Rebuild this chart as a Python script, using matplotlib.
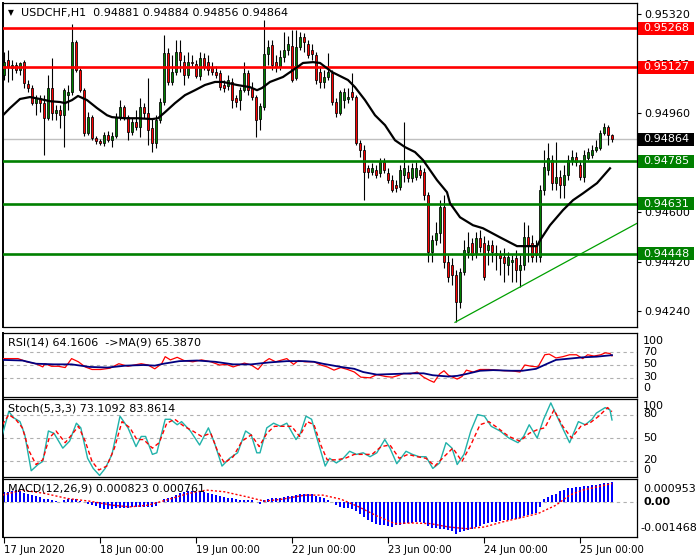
import matplotlib
matplotlib.use('Agg')
import matplotlib.pyplot as plt
from matplotlib.patches import Rectangle
import numpy as np

# ---------------- data ----------------
opens = [
0.95098, 0.95153, 0.95123, 0.95134, 0.95116, 0.95145, 0.95065, 0.95051, 0.94996, 0.95014,
0.94996, 0.94941, 0.95051, 0.94960, 0.94971, 0.94952, 0.95025, 0.95036, 0.95218, 0.95116,
0.95043, 0.94887, 0.94945, 0.94869, 0.94858, 0.94851, 0.94880, 0.94861, 0.94876, 0.94945,
0.94982, 0.94945, 0.94891, 0.94927, 0.94909, 0.94982, 0.94960, 0.94905, 0.94851, 0.94934,
0.95000, 0.95178, 0.95073, 0.95109, 0.95182, 0.95145, 0.95098, 0.95145, 0.95138, 0.95094,
0.95160, 0.95145, 0.95123, 0.95109, 0.95105, 0.95062, 0.95058, 0.95073, 0.95014, 0.95007,
0.95043, 0.95105, 0.95051, 0.95018, 0.94938, 0.94982, 0.95174, 0.95207, 0.95145, 0.95127,
0.95164, 0.95189, 0.95204, 0.95087, 0.95200, 0.95236, 0.95211, 0.95189, 0.95171, 0.95109,
0.95073, 0.95091, 0.95105, 0.95000, 0.94960, 0.95007, 0.95011, 0.95036, 0.95018, 0.94851,
0.94825, 0.94759, 0.94745, 0.94752, 0.94741, 0.94781, 0.94741, 0.94716, 0.94698, 0.94690,
0.94734, 0.94745, 0.94723, 0.94727, 0.94752, 0.94745, 0.94661, 0.94454, 0.94497, 0.94523,
0.94618, 0.94417, 0.94406, 0.94370, 0.94272, 0.94381, 0.94454, 0.94486, 0.94450, 0.94505,
0.94486, 0.94461, 0.94479, 0.94450, 0.94443, 0.94436, 0.94406, 0.94417, 0.94432, 0.94388,
0.94406, 0.94508, 0.94486, 0.94479, 0.94436, 0.94679, 0.94752, 0.94789, 0.94705, 0.94727,
0.94698, 0.94734, 0.94789, 0.94800, 0.94770, 0.94727, 0.94796, 0.94807, 0.94825, 0.94832,
0.94887, 0.94909, 0.94881]
highs = [
0.95182, 0.95189, 0.95153, 0.95145, 0.95145, 0.95153, 0.95080, 0.95062, 0.95025, 0.95025,
0.95025, 0.95098, 0.95160, 0.94989, 0.94989, 0.95051, 0.95062, 0.95284, 0.95225, 0.95123,
0.95051, 0.94963, 0.94952, 0.94876, 0.94865, 0.94891, 0.94894, 0.94891, 0.94960, 0.95007,
0.94989, 0.94952, 0.94941, 0.94971, 0.95014, 0.94996, 0.95087, 0.94941, 0.94952, 0.95014,
0.95244, 0.95196, 0.95171, 0.95225, 0.95225, 0.95171, 0.95182, 0.95171, 0.95153, 0.95182,
0.95178, 0.95171, 0.95145, 0.95131, 0.95116, 0.95080, 0.95098, 0.95087, 0.95025, 0.95054,
0.95145, 0.95116, 0.95073, 0.95025, 0.94996, 0.95298, 0.95225, 0.95225, 0.95171, 0.95189,
0.95254, 0.95240, 0.95262, 0.95262, 0.95254, 0.95251, 0.95225, 0.95211, 0.95182, 0.95131,
0.95116, 0.95178, 0.95116, 0.95014, 0.95043, 0.95051, 0.95051, 0.95105, 0.95025, 0.94861,
0.94843, 0.94770, 0.94778, 0.94770, 0.94796, 0.94796, 0.94759, 0.94734, 0.94716, 0.94770,
0.94927, 0.94770, 0.94778, 0.94781, 0.94770, 0.94759, 0.94672, 0.94516, 0.94563, 0.94643,
0.94661, 0.94443, 0.94432, 0.94388, 0.94396, 0.94497, 0.94526, 0.94505, 0.94526, 0.94534,
0.94512, 0.94497, 0.94497, 0.94479, 0.94461, 0.94468, 0.94454, 0.94443, 0.94461, 0.94443,
0.94563, 0.94552, 0.94516, 0.94497, 0.94698, 0.94825, 0.94851, 0.94807, 0.94854, 0.94752,
0.94770, 0.94807, 0.94825, 0.94818, 0.94789, 0.94825, 0.94832, 0.94843, 0.94861, 0.94898,
0.94923, 0.94916, 0.94884]
lows = [
0.95080, 0.95073, 0.95080, 0.95105, 0.95098, 0.95051, 0.95036, 0.94989, 0.94952, 0.94963,
0.94807, 0.94934, 0.94934, 0.94934, 0.94905, 0.94836, 0.94971, 0.95025, 0.95109, 0.95036,
0.94876, 0.94880, 0.94861, 0.94847, 0.94843, 0.94840, 0.94854, 0.94836, 0.94869, 0.94934,
0.94934, 0.94861, 0.94880, 0.94898, 0.94872, 0.94941, 0.94843, 0.94818, 0.94832, 0.94923,
0.94989, 0.95062, 0.95062, 0.95098, 0.95109, 0.95062, 0.95087, 0.95131, 0.95087, 0.95080,
0.95116, 0.95098, 0.95098, 0.95087, 0.95043, 0.95036, 0.95043, 0.94978, 0.94982, 0.94971,
0.95036, 0.95025, 0.95007, 0.94872, 0.94898, 0.94971, 0.95134, 0.95116, 0.95109, 0.95116,
0.95145, 0.95171, 0.95073, 0.95080, 0.95189, 0.95182, 0.95160, 0.95153, 0.95065, 0.95051,
0.95051, 0.95080, 0.94989, 0.94945, 0.94952, 0.94978, 0.94996, 0.95007, 0.94843, 0.94800,
0.94643, 0.94723, 0.94734, 0.94723, 0.94727, 0.94741, 0.94705, 0.94672, 0.94672, 0.94679,
0.94709, 0.94709, 0.94709, 0.94716, 0.94723, 0.94643, 0.94417, 0.94417, 0.94479, 0.94486,
0.94396, 0.94345, 0.94334, 0.94199, 0.94250, 0.94370, 0.94432, 0.94425, 0.94432, 0.94454,
0.94352, 0.94406, 0.94417, 0.94388, 0.94370, 0.94345, 0.94370, 0.94345, 0.94345, 0.94326,
0.94388, 0.94417, 0.94417, 0.94417, 0.94417, 0.94661, 0.94734, 0.94679, 0.94679, 0.94650,
0.94650, 0.94716, 0.94770, 0.94767, 0.94716, 0.94709, 0.94789, 0.94796, 0.94818, 0.94825,
0.94880, 0.94843, 0.94856]
closes = [
0.95145, 0.95127, 0.95134, 0.95116, 0.95142, 0.95069, 0.95051, 0.94996, 0.95014, 0.94996,
0.94941, 0.95051, 0.94960, 0.94971, 0.94952, 0.95043, 0.95036, 0.95218, 0.95116, 0.95043,
0.94887, 0.94945, 0.94869, 0.94858, 0.94851, 0.94880, 0.94861, 0.94876, 0.94945, 0.94982,
0.94945, 0.94891, 0.94927, 0.94909, 0.94982, 0.94960, 0.94898, 0.94851, 0.94934, 0.95000,
0.95178, 0.95073, 0.95109, 0.95182, 0.95153, 0.95098, 0.95145, 0.95142, 0.95094, 0.95160,
0.95127, 0.95116, 0.95109, 0.95098, 0.95054, 0.95051, 0.95080, 0.95007, 0.95000, 0.95043,
0.95105, 0.95043, 0.95018, 0.94934, 0.94985, 0.95174, 0.95200, 0.95134, 0.95127, 0.95164,
0.95189, 0.95211, 0.95080, 0.95200, 0.95236, 0.95218, 0.95171, 0.95174, 0.95080, 0.95073,
0.95091, 0.95109, 0.95000, 0.94960, 0.95036, 0.95036, 0.95018, 0.95018, 0.94851, 0.94825,
0.94745, 0.94745, 0.94759, 0.94734, 0.94781, 0.94752, 0.94716, 0.94679, 0.94687, 0.94752,
0.94759, 0.94723, 0.94759, 0.94759, 0.94734, 0.94661, 0.94454, 0.94497, 0.94523, 0.94618,
0.94417, 0.94363, 0.94370, 0.94272, 0.94381, 0.94461, 0.94472, 0.94443, 0.94505, 0.94472,
0.94363, 0.94479, 0.94454, 0.94443, 0.94432, 0.94414, 0.94436, 0.94425, 0.94388, 0.94406,
0.94508, 0.94479, 0.94436, 0.94443, 0.94679, 0.94763, 0.94796, 0.94705, 0.94727, 0.94698,
0.94734, 0.94789, 0.94800, 0.94781, 0.94727, 0.94807, 0.94818, 0.94825, 0.94836, 0.94887,
0.94909, 0.94880, 0.94864]

# moving average on price (bar position, value)
ma_x = [-0.25, 1.5, 4, 6.5, 9, 11.5, 14, 15.25, 17, 18.5, 20.75, 23.25, 25.75, 27, 30.25, 33.5,
        37, 38.5, 40.25, 42.75, 45.25, 47.75, 50.25, 52.75, 54.75, 58.25, 61.5, 63.25, 64.5,
        66.5, 69.75, 72.25, 74.75, 77.25, 79, 82, 86, 87.75, 90.25, 92.75, 95.25, 97.75,
        100.25, 102.75, 104.75, 108.25, 110.75, 111.5, 114, 117.25, 119.75, 124, 128.25,
        133.25, 134, 136.5, 139.75, 142.25, 144.75, 148.25, 151.5]
ma_v = [0.94952, 0.94978, 0.95011, 0.95018, 0.95011, 0.95003, 0.95000, 0.94996, 0.95007, 0.95022,
        0.95007, 0.94978, 0.94952, 0.94945, 0.94941, 0.94941, 0.94938, 0.94941, 0.94963, 0.94996,
        0.95025, 0.95043, 0.95062, 0.95073, 0.95073, 0.95062, 0.95054, 0.95043, 0.95051, 0.95073,
        0.95091, 0.95116, 0.95142, 0.95145, 0.95142, 0.95109, 0.95080, 0.95054, 0.95007, 0.94952,
        0.94916, 0.94861, 0.94836, 0.94818, 0.94789, 0.94716, 0.94672, 0.94632, 0.94581, 0.94552,
        0.94541, 0.94508, 0.94476, 0.94476, 0.94497, 0.94552, 0.94607, 0.94643, 0.94668, 0.94705,
        0.94759]

resist_levels = [0.95268, 0.95127]
support_levels = [0.94785, 0.94631, 0.94448]
last_price = 0.94864
trend_x = [112.75, 158.25]
trend_v = [0.94199, 0.94559]
price_ticks = [0.95320, 0.95140, 0.94960, 0.94780, 0.94600, 0.94420, 0.94240]

rsi_x = [-0.4, 3.5, 5.7, 8.0, 9.7, 10.2, 11.9, 13.6, 15.3, 16.9, 18.6, 20.3, 22.0, 24.2, 26.5,
         28.7, 31.0, 32.6, 34.3, 36.0, 37.7, 39.4, 40.3, 41.6, 43.3, 45.0, 47.2, 49.4, 51.7,
         53.9, 55.6, 57.3, 60.1, 61.8, 63.5, 65.1, 66.3, 67.9, 70.7, 72.4, 73.6, 75.2, 77.5,
         79.2, 80.8, 82.5, 84.2, 85.9, 87.6, 89.2, 91.5, 93.2, 95.4, 97.1, 98.8, 99.9, 101.6,
         103.3, 104.9, 106.4, 107.5, 108.9, 110.0, 111.1, 112.2, 113.3, 114.5, 115.6, 117.3,
         119.0, 121.2, 123.4, 125.1, 126.8, 129.0, 130.2, 131.8, 133.5, 135.2, 136.3, 138.0,
         139.7, 141.4, 143.1, 144.7, 145.9, 147.5, 149.2, 150.3, 151.5, 152]
rsi_v = [60, 60, 55, 52, 47, 52, 48, 48, 46, 60, 55, 47, 43, 43, 45,
         52, 48, 50, 52, 50, 44, 52, 63, 58, 62, 57, 55, 58, 55,
         50, 51, 47, 53, 50, 43, 55, 60, 55, 60, 51, 57, 55, 55,
         50, 47, 42, 46, 43, 39, 31, 30, 35, 32, 31, 34, 37, 36,
         39, 31, 26, 23, 36, 41, 34, 31, 28, 32, 42, 39,
         43, 43, 42, 41, 41, 39, 50, 48, 47, 66, 67, 61,
         63, 66, 66, 60, 66, 64, 66, 69, 68, 64.16]
rsi_ma_x = [-0.4, 4.6, 8.0, 12.5, 16.9, 21.4, 25.9, 30.4, 34.9, 37.7, 39.9, 43.8, 48.3, 52.8,
            57.3, 61.8, 66.3, 70.7, 75.2, 77.5, 79.7, 84.2, 87.6, 89.8, 93.2, 97.7, 102.1,
            104.9, 107.2, 111.1, 113.3, 115.6, 119.0, 122.3, 126.8, 129.6, 133.0, 135.8,
            138.0, 141.4, 144.7, 148.1, 152]
rsi_ma_v = [58, 57, 52, 51, 51, 47, 46, 49, 50, 49, 52, 56, 57, 55,
            51, 51, 54, 56, 56, 55, 52, 47, 44, 39, 35, 36, 37,
            37, 34, 32, 33, 36, 41, 42, 41, 41, 44, 52,
            58, 60, 62, 63, 65.39]

st_x = [-0.4, 1.2, 2.4, 4.0, 5.2, 6.8, 8.5, 9.7, 11.1, 12.5, 14.7, 16.4, 18.1, 19.2, 20.9, 22.3,
        23.9, 25.3, 27.0, 29.0, 31.0, 33.0, 34.3, 35.4, 37.1, 38.2, 40.3, 41.6, 43.3, 44.4,
        46.6, 48.9, 51.1, 52.6, 54.5, 56.4, 58.4, 60.4, 61.8, 63.2, 64.0, 65.7, 67.4, 69.1,
        70.7, 73.0, 74.1, 75.5, 76.9, 78.0, 80.3, 81.4, 83.1, 84.8, 86.4, 88.1, 89.8, 91.5,
        93.2, 95.2, 96.5, 98.2, 100.5, 102.1, 103.8, 105.5, 107.2, 108.9, 110.5, 112.0,
        113.3, 115.0, 116.7, 118.4, 120.1, 121.8, 124.0, 126.2, 128.5, 129.9, 131.3, 133.3,
        134.9, 136.7, 138.6, 141.4, 143.6, 145.3, 147.0, 148.1, 150.3, 151.5, 152]
st_main = [54, 84, 76, 71, 54, 8, 16, 20, 59, 56, 37, 46, 69, 63, 24, 11,
           2, 11, 29, 78, 63, 39, 52, 52, 29, 31, 74, 74, 67, 71,
           59, 41, 63, 44, 14, 24, 31, 59, 54, 31, 31, 63, 69, 65,
           69, 48, 56, 78, 74, 54, 14, 24, 18, 24, 33, 29, 31, 26,
           31, 48, 37, 17, 33, 29, 26, 26, 11, 18, 44, 37,
           16, 29, 59, 80, 78, 65, 59, 50, 44, 52, 67, 50,
           74, 95, 74, 44, 71, 67, 74, 82, 89, 86, 73.11]
st_sig_x = [-0.4, 1.2, 2.9, 4.6, 6.3, 8.0, 9.7, 11.3, 13.0, 15.3, 16.9, 18.6, 20.3, 22.0, 23.7,
            25.7, 27.6, 29.5, 31.5, 33.2, 34.9, 37.1, 38.8, 40.7, 42.7, 45.0, 47.2, 49.4, 51.7,
            53.4, 55.1, 57.3, 59.5, 61.8, 63.8, 65.7, 67.6, 69.6, 71.9, 73.9, 75.8, 77.5, 79.2,
            80.8, 83.1, 85.3, 87.6, 89.8, 92.0, 94.3, 96.5, 98.8, 101.0, 103.3, 105.5, 107.7,
            110.0, 112.2, 114.5, 116.7, 119.0, 121.2, 123.4, 126.2, 129.0, 131.3, 133.5, 135.2,
            137.5, 139.7, 141.9, 144.2, 146.4, 148.7, 150.9, 152]
st_sig = [67, 80, 74, 63, 33, 16, 22, 50, 59, 44, 54, 65, 46, 20, 9,
          14, 37, 71, 63, 48, 48, 37, 44, 69, 74, 65, 59, 52, 56,
          33, 18, 26, 46, 54, 39, 56, 65, 65, 65, 52, 71, 67, 41,
          22, 22, 24, 29, 29, 29, 39, 41, 24, 29, 26, 24, 14,
          26, 37, 20, 41, 67, 71, 63, 52, 46, 56, 61, 63,
          86, 65, 50, 65, 69, 78, 89, 83.86]

# MACD histogram per bar (units of 1e-6)
macd_hist_e6 = [
 420, 430, 450, 480, 450, 370, 320, 280, 250, 190,
 130, 100, 80, 40, 10, 60, 100, 120, 100, 50,
 -20, -70, -120, -170, -260, -300, -320, -300, -270, -250,
 -240, -240, -220, -210, -210, -210, -210, -200, -160, -20,
 110, 170, 210, 300, 360, 420, 440, 450, 430, 410,
 390, 370, 340, 290, 250, 210, 170, 140, 110, 80,
 70, 70, 60, 0, -110, 60, 120, 140, 160, 170,
 210, 230, 260, 290, 320, 340, 330, 310, 240, 210,
 150, 90, 0, -140, -200, -240, -270, -290, -380, -500,
 -640, -740, -840, -930, -960, -980, -1010, -1050, -980, -950,
 -940, -900, -870, -850, -860, -900, -1000, -1090, -1110, -1130,
 -1150, -1180, -1230, -1330, -1280, -1230, -1160, -1120, -1060, -1000,
 -910, -870, -850, -830, -800, -770, -750, -730, -710, -680,
 -590, -550, -500, -460, -210, 120, 210, 280, 340, 450,
 500, 560, 590, 610, 630, 650, 680, 700, 715, 730,
 770, 790, 823]
macd_sig_x = [-0.4, 4.6, 10.2, 15.8, 21.4, 27, 31.5, 36, 40.5, 46.1, 50.6, 55.1, 60.7, 65.1,
              69.6, 75.2, 79.7, 84.2, 88.7, 93.2, 97.7, 102.1, 106.6, 111.1, 115.6, 120.1,
              124.6, 129, 133.5, 138, 141.4, 144.7, 149.2, 152]
macd_sig_e6 = [280, 490, 350, 140, 28, -140, -210, -140, 70, 350, 490, 420, 210, 28,
               112, 280, 280, 112, -210, -588, -910, -882, -910, -1050, -1120, -1050,
               -840, -672, -490, -140, 280, 490, 658, 761]

day_ticks = [0, 24, 48, 72, 96, 120, 144]
day_labels = ['17 Jun 2020', '18 Jun 00:00', '19 Jun 00:00', '22 Jun 00:00',
              '23 Jun 00:00', '24 Jun 00:00', '25 Jun 00:00']

# ---------------- drawing ----------------
plt.rcParams['font.family'] = ['DejaVu Sans']
W, H = 700, 560
fig = plt.figure(figsize=(7, 5.6), dpi=100)
fig.patch.set_facecolor('white')


def rect(x0, y0, x1, y1):
    return [x0 / W, 1 - y1 / H, (x1 - x0) / W, (y1 - y0) / H]


ax = fig.add_axes(rect(3, 3, 637, 327))
ax_rsi = fig.add_axes(rect(3, 333, 637, 397))
ax_st = fig.add_axes(rect(3, 399, 637, 477))
ax_md = fig.add_axes(rect(3, 479, 637, 537))

XL = (-0.25, 158.25)
for a in (ax, ax_rsi, ax_st, ax_md):
    a.set_xlim(*XL)
    a.set_facecolor('white')
    for s in a.spines.values():
        s.set_linewidth(0.9)
        s.set_color('black')
    a.spines['left'].set_linewidth(1.4)
    a.tick_params(axis='x', bottom=False, labelbottom=False)
    a.tick_params(axis='y', left=False, labelleft=False, right=False, labelright=False)

# main candles
o = np.array(opens); h = np.array(highs); l = np.array(lows); c = np.array(closes)
idx = np.arange(len(c))
ax.set_ylim(0.94182, 0.95360)
ax.axhline(last_price, color='#c0c0c0', lw=1.0, zorder=1)
ax.vlines(idx, l, h, color='black', lw=0.8, zorder=3)
up = c >= o
cols = np.where(up, '#008000', '#ff0000')
ax.bar(idx, np.abs(c - o), bottom=np.minimum(o, c), width=0.72, color=cols,
       edgecolor='black', linewidth=0.55, zorder=4)
for lv in resist_levels:
    ax.axhline(lv, color='#ff0000', lw=1.9, zorder=5)
for lv in support_levels:
    ax.axhline(lv, color='#008000', lw=1.9, zorder=5)
ax.plot(trend_x, trend_v, color='#00a000', lw=0.9, zorder=5)
ax.plot(ma_x, ma_v, color='black', lw=1.6, zorder=6)

ax.yaxis.tick_right()
ax.set_yticks(price_ticks)
# 0.94780 sits completely under the 0.94785 tag in the reference
ax.set_yticklabels(['' if abs(v - 0.94780) < 1e-7 else f'{v:.5f}' for v in price_ticks])
ax.tick_params(axis='y', right=True, labelright=True, length=3, width=0.8,
               pad=2, labelsize=8, direction='out')

fig.text(8 / W, 1 - 13 / H, '\u25BC', fontsize=5.5, va='center', ha='left')
fig.text(21 / W, 1 - 13 / H, 'USDCHF,H1  0.94881 0.94884 0.94856 0.94864',
         fontsize=8, va='center', ha='left')

# price tags
fig.canvas.draw()
tags = [(resist_levels[0], '#ff0000'), (resist_levels[1], '#ff0000'),
        (last_price, '#000000'), (support_levels[0], '#008000'),
        (support_levels[1], '#008000'), (support_levels[2], '#008000')]
for val, col in tags:
    ypx = ax.transData.transform((0, val))[1]
    fig.add_artist(Rectangle((638 / W, (ypx - 6.5) / H), 56 / W, 13 / H,
                             transform=fig.transFigure, facecolor=col,
                             edgecolor='none', zorder=5))
    fig.text(643 / W, ypx / H, f'{val:.5f}', color='white', fontsize=8,
             va='center', ha='left', zorder=6)

# RSI
ax_rsi.set_ylim(0, 100)
for lv in (70, 50, 30):
    ax_rsi.axhline(lv, color='#b0b0b0', lw=0.8, ls=(0, (3, 3)), zorder=1)
ax_rsi.plot(rsi_x, rsi_v, color='#ff0000', lw=0.9, zorder=3)
ax_rsi.plot(rsi_ma_x, rsi_ma_v, color='#000080', lw=1.3, zorder=4)
ax_rsi.text(5 / 634, 0.85, 'RSI(14) 64.1606  ->MA(9) 65.3870', transform=ax_rsi.transAxes,
            fontsize=8, va='center', ha='left', zorder=6)
for lab, yy in (('100', 341), ('70', 352), ('50', 364), ('30', 377), ('0', 388)):
    fig.text(643 / W, 1 - yy / H, lab, fontsize=8, va='center', ha='left')

# Stochastic
ax_st.set_ylim(0, 100)
for lv in (80, 50, 20):
    ax_st.axhline(lv, color='#b0b0b0', lw=0.8, ls=(0, (3, 3)), zorder=1)
ax_st.plot(st_x, st_main, color='#20b2aa', lw=1.0, zorder=3)
ax_st.plot(st_sig_x, st_sig, color='#ff0000', lw=1.0, ls=(0, (3, 2)), zorder=4)
ax_st.text(5 / 634, 0.88, 'Stoch(5,3,3) 73.1092 83.8614', transform=ax_st.transAxes,
           fontsize=8, va='center', ha='left', zorder=6)
for lab, yy in (('100', 406), ('80', 414), ('50', 438), ('20', 460), ('0', 470)):
    fig.text(643 / W, 1 - yy / H, lab, fontsize=8, va='center', ha='left')

# MACD
hist = np.array(macd_hist_e6) * 1e-6
sig = np.array(macd_sig_e6) * 1e-6
ax_md.set_ylim(-0.001468, 0.000953)
ax_md.axhline(0, color='#b0b0b0', lw=0.8, ls=(0, (3, 3)), zorder=1)
ax_md.bar(idx, hist, width=0.7, color='#0000ff', zorder=2)
ax_md.plot(macd_sig_x, sig, color='#ff0000', lw=1.0, ls=(0, (1.5, 1.5)), zorder=3)
ax_md.text(5 / 634, 0.83, 'MACD(12,26,9) 0.000823 0.000761', transform=ax_md.transAxes,
           fontsize=8, va='center', ha='left', zorder=6)
fig.text(643 / W, 1 - 489 / H, '0.000953', fontsize=8, va='center', ha='left')
fig.text(643 / W, 1 - 502 / H, '0.00', fontsize=8, va='center', ha='left', fontweight='bold')
fig.text(640 / W, 1 - 528 / H, '-0.001468', fontsize=8, va='center', ha='left')

ax_md.set_xticks(day_ticks)
ax_md.set_xticklabels(day_labels, ha='left')
ax_md.tick_params(axis='x', bottom=True, labelbottom=True, length=4, width=0.8,
                  pad=1.5, labelsize=7.3, direction='out')

fig.savefig('out.png', dpi=100, facecolor='white')
